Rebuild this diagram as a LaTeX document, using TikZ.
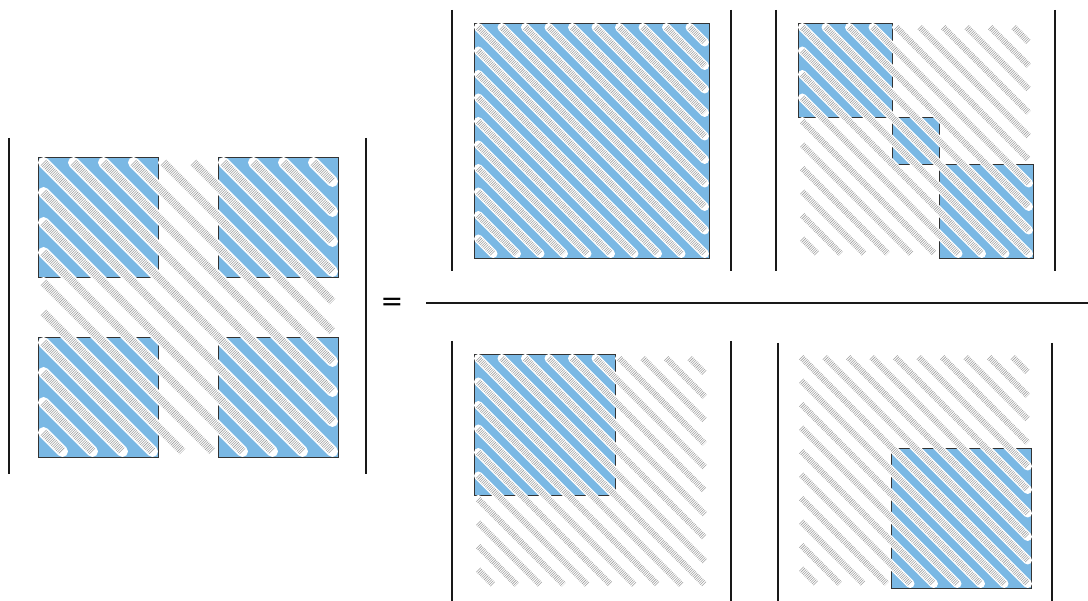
\documentclass[tikz,border=0pt]{standalone}
\usepackage{fontspec}
\newfontfamily\eqfont{DejaVu Sans}
\definecolor{myblue}{RGB}{122,184,228}
\tikzset{
  detbar/.style={line width=1.8pt, black!90},
  blk/.style={fill=myblue, draw=black!80, line width=0.9pt},
  bandw/.style={white, line cap=round},
  bandg/.style={black!38, line cap=butt, dash pattern=on 0.55pt off 1.25pt},
  fracline/.style={line width=1.4pt, black!90}
}
\newcommand\hatchsq[3]{%
  \pgfmathsetmacro\hs{#3/10}%
  \pgfmathsetmacro\hw{0.37*\hs}%
  \pgfmathsetmacro\hd{\hw/2}%
  \pgfmathsetmacro\hg{0.72*\hw}%
  \foreach \k in {0,...,9}{
    \draw[bandw, line width=\hw pt] (#1+\k*\hs+\hd, #2+\hd) -- (#1+#3-\hd, #2+#3-\k*\hs-\hd);
    \draw[bandg, line width=\hg pt] (#1+\k*\hs+\hd, #2+\hd) -- (#1+#3-\hd, #2+#3-\k*\hs-\hd);
  }
  \foreach \k in {1,...,9}{
    \draw[bandw, line width=\hw pt] (#1+\hd, #2+\k*\hs+\hd) -- (#1+#3-\k*\hs-\hd, #2+#3-\hd);
    \draw[bandg, line width=\hg pt] (#1+\hd, #2+\k*\hs+\hd) -- (#1+#3-\k*\hs-\hd, #2+#3-\hd);
  }
}
\begin{document}
\begin{tikzpicture}[x=1pt,y=-1pt]
\useasboundingbox (0,0) rectangle (1088,601);

% ---- left matrix ----
\draw[detbar] (9,138) -- (9,474);
\draw[detbar] (366,138) -- (366,474);
\draw[blk] (38,157) rectangle (158,277);
\draw[blk] (218,157) rectangle (338,277);
\draw[blk] (38,337) rectangle (158,457);
\draw[blk] (218,337) rectangle (338,457);
\hatchsq{38}{157}{300}

% equals sign
\node[font=\eqfont\fontsize{27}{30}\selectfont, inner sep=0pt] (eq) at (392,304) {=};

% fraction line
\coordinate (fl) at (426,303);
\coordinate (fr) at (1088,303);
\draw[fracline] (fl) -- (fr);

% ---- top middle ----
\draw[detbar] (452,10) -- (452,271);
\draw[detbar] (731,10) -- (731,271);
\draw[blk] (474,23) rectangle (709,258);
\hatchsq{474}{23}{235}

% ---- top right ----
\draw[detbar] (776,10) -- (776,271);
\draw[detbar] (1055,10) -- (1055,271);
\draw[blk] (798,23) rectangle (892,117);
\draw[blk] (892,117) rectangle (939,164);
\draw[blk] (939,164) rectangle (1033,258);
\hatchsq{798}{23}{235}

% ---- bottom middle ----
\draw[detbar] (452,341) -- (452,601);
\draw[detbar] (731,341) -- (731,601);
\draw[blk] (474,354) rectangle (615,495);
\hatchsq{474}{354}{235}

% ---- bottom right ----
\draw[detbar] (778,343) -- (778,601);
\draw[detbar] (1052,343) -- (1052,601);
\draw[blk] (891,448) rectangle (1031,588);
\hatchsq{797}{353}{235}
\end{tikzpicture}
\end{document}
